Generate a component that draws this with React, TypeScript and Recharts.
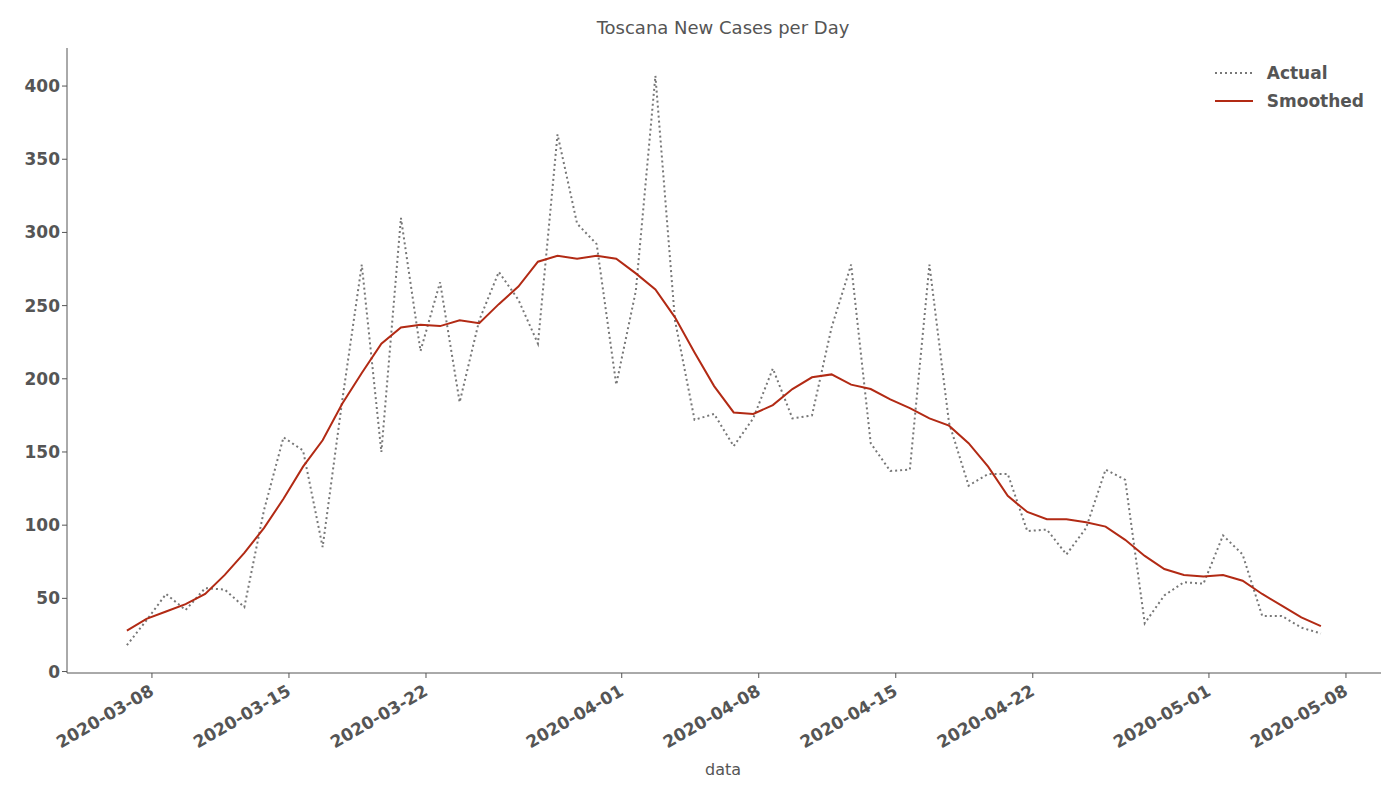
import React from 'react';
import { LineChart, Line, XAxis, YAxis } from 'recharts';

const startDate = '2020-03-07';
const actual = [18, 35, 53, 42, 57, 56, 44, 110, 160, 151, 85, 185, 278, 150, 310, 219, 266, 184, 240, 273, 254, 224, 367, 306, 292, 196, 260, 407, 240, 172, 176, 154, 173, 207, 173, 175, 235, 278, 156, 137, 138, 278, 170, 127, 135, 135, 96, 97, 80, 98, 138, 131, 33, 52, 61, 60, 93, 80, 38, 38, 30, 26];
const smoothed = [28, 36, 41, 46, 53, 66, 81, 98, 118, 140, 158, 183, 204, 224, 235, 237, 236, 240, 238, 251, 263, 280, 284, 282, 284, 282, 272, 261, 242, 218, 195, 177, 176, 182, 193, 201, 203, 196, 193, 186, 180, 173, 168, 156, 140, 120, 109, 104, 104, 102, 99, 90, 79, 70, 66, 65, 66, 62, 53, 45, 37, 31];
const xTickLabels = ['2020-03-08', '2020-03-15', '2020-03-22', '2020-04-01', '2020-04-08', '2020-04-15', '2020-04-22', '2020-05-01', '2020-05-08'];
const yTicks = [0, 50, 100, 150, 200, 250, 300, 350, 400];

const DAY = 86400000;
const base = Date.parse('2020-03-08T00:00:00Z');
const dayOf = (s: string) => (Date.parse(s + 'T00:00:00Z') - base) / DAY;
// timestamps sit a few hours before midnight
const tzShift = -0.28;

const data = actual.map((a, i) => ({
  x: dayOf(startDate) + i + tzShift,
  actual: a,
  smoothed: smoothed[i],
}));
const xTicks = xTickLabels.map(dayOf);
const labelFor = (v: number) => xTickLabels[xTicks.indexOf(v)] ?? '';

const grey = '#555555';

const XTick = (props: any) => {
  const { x, y, payload } = props;
  return (
    <g transform={`translate(${x - 3},${y + 4})`}>
      <text textAnchor="end" transform="rotate(-30)" dy={12} fill={grey} fontSize={17} fontWeight="bold">
        {labelFor(payload.value)}
      </text>
    </g>
  );
};

const LegendBox = () => (
  <div style={{ position: 'absolute', top: 59, right: 36, fontSize: 17, fontWeight: 'bold', color: grey, lineHeight: '28px' }}>
    <div style={{ display: 'flex', alignItems: 'center' }}>
      <svg width={40} height={10} style={{ marginRight: 12 }}>
        <line x1={0} y1={5} x2={38} y2={5} stroke="#777" strokeWidth={2} strokeDasharray="2 3" />
      </svg>
      Actual
    </div>
    <div style={{ display: 'flex', alignItems: 'center' }}>
      <svg width={40} height={10} style={{ marginRight: 12 }}>
        <line x1={0} y1={5} x2={38} y2={5} stroke="#b22a14" strokeWidth={2} />
      </svg>
      Smoothed
    </div>
  </div>
);

export default function App() {
  return (
    <div style={{ position: 'absolute', top: 0, left: 0, width: 1400, height: 800, background: '#fff', fontFamily: 'DejaVu Sans' }}>
      <div style={{ position: 'absolute', top: 17, width: 1446, textAlign: 'center', fontSize: 18, color: grey }}>
        Toscana New Cases per Day
      </div>
      <div style={{ position: 'absolute', top: 760, width: 1446, textAlign: 'center', fontSize: 16, color: grey }}>
        data
      </div>
      <LineChart width={1400} height={800} data={data} margin={{ top: 48, right: 19, left: 0, bottom: 0 }}>
        <XAxis
          dataKey="x"
          type="number"
          domain={[-4.34, 62.79]}
          allowDataOverflow
          ticks={xTicks}
          interval={0}
          tick={<XTick />}
          height={127}
          stroke={grey}
          tickSize={5}
        />
        <YAxis
          domain={[-1, 426]}
          allowDataOverflow
          ticks={yTicks}
          width={67}
          stroke={grey}
          tick={{ fill: grey, fontSize: 17, fontWeight: 'bold' }}
          tickSize={5}
        />
        <Line dataKey="actual" stroke="#777" strokeWidth={2} strokeDasharray="2 3" dot={false} isAnimationActive={false} />
        <Line dataKey="smoothed" stroke="#b22a14" strokeWidth={2} dot={false} isAnimationActive={false} />
      </LineChart>
      <LegendBox />
    </div>
  );
}
